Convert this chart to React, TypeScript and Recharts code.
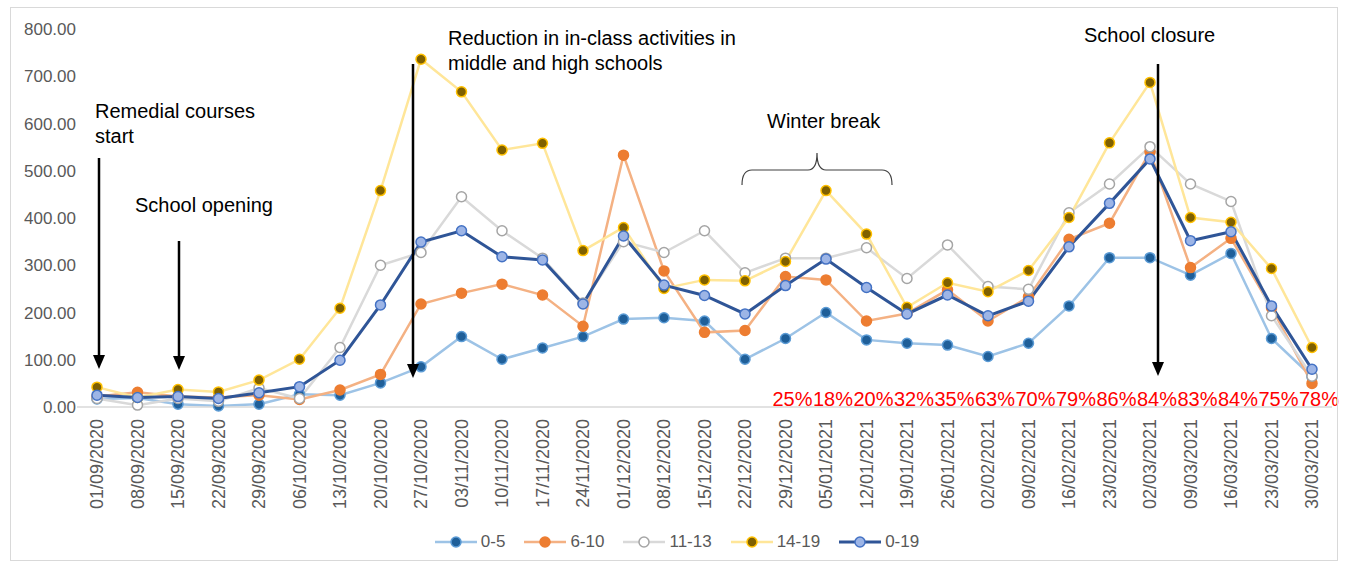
import React from "react";
import {
  LineChart,
  Line,
  XAxis,
  YAxis,
  ReferenceDot,
} from "recharts";

const dates = [
  "01/09/2020", "08/09/2020", "15/09/2020", "22/09/2020", "29/09/2020",
  "06/10/2020", "13/10/2020", "20/10/2020", "27/10/2020", "03/11/2020",
  "10/11/2020", "17/11/2020", "24/11/2020", "01/12/2020", "08/12/2020",
  "15/12/2020", "22/12/2020", "29/12/2020", "05/01/2021", "12/01/2021",
  "19/01/2021", "26/01/2021", "02/02/2021", "09/02/2021", "16/02/2021",
  "23/02/2021", "02/03/2021", "09/03/2021", "16/03/2021", "23/03/2021",
  "30/03/2021",
];

const age0to5 = [17, 19, 6, 2, 6, 27, 25, 51, 85, 149, 101, 125, 149, 186, 189, 182, 101, 145, 200, 142, 135, 131, 107, 135, 214, 316, 316, 279, 325, 145, 64];
const age6to10 = [22, 31, 22, 20, 25, 16, 36, 69, 218, 241, 260, 237, 171, 533, 288, 158, 162, 276, 269, 182, 198, 248, 182, 233, 355, 389, 540, 295, 357, 210, 50];
const age11to13 = [18, 4, 18, 12, 40, 18, 126, 300, 327, 445, 373, 315, 220, 350, 327, 373, 284, 315, 315, 337, 272, 343, 255, 249, 411, 472, 551, 472, 435, 193, 65];
const age14to19 = [42, 20, 37, 32, 57, 101, 209, 458, 736, 667, 544, 558, 331, 380, 251, 269, 267, 308, 458, 366, 211, 263, 244, 289, 401, 559, 687, 401, 391, 293, 126];
const age0to19 = [25, 20, 22, 18, 30, 43, 99, 216, 349, 373, 318, 311, 218, 362, 258, 236, 197, 257, 313, 253, 197, 237, 193, 224, 339, 431, 525, 352, 371, 214, 80];

// red percentages, shown from 29/12/2020 onwards
const pctStart = 17;
const pctLabels = ["25%", "18%", "20%", "32%", "35%", "63%", "70%", "79%", "86%", "84%", "83%", "84%", "75%", "78%"];

const yTicks = [0, 100, 200, 300, 400, 500, 600, 700, 800];

const series = [
  { key: "a", name: "0-5", line: "#9dc3e6", fill: "#1f5f99", stroke: "#5b9bd5", width: 2.5 },
  { key: "b", name: "6-10", line: "#f4b183", fill: "#ed7d31", stroke: "#ed7d31", width: 2.5 },
  { key: "c", name: "11-13", line: "#d9d9d9", fill: "#ffffff", stroke: "#a5a5a5", width: 2.5 },
  { key: "d", name: "14-19", line: "#ffe699", fill: "#7f6000", stroke: "#ffc000", width: 2.5 },
  { key: "e", name: "0-19", line: "#2f5597", fill: "#9db5e6", stroke: "#4472c4", width: 3 },
];

const data = dates.map((date, i) => ({
  date,
  a: age0to5[i],
  b: age6to10[i],
  c: age11to13[i],
  d: age14to19[i],
  e: age0to19[i],
}));

const FONT = "'Liberation Sans', Arial, sans-serif";

function DateTick({ x, y, payload }: any) {
  return (
    <g transform={`translate(${x},${y})`}>
      <text
        transform="rotate(-90)"
        x={-10}
        y={0}
        dy="0.35em"
        textAnchor="end"
        fill="#595959"
        fontSize={18}
        fontFamily={FONT}
      >
        {payload.value}
      </text>
    </g>
  );
}

function PctLabel({ viewBox, value }: any) {
  const cx = viewBox.x + (viewBox.width || 0) / 2;
  return (
    <text
      x={cx + 7}
      y={viewBox.y - 1}
      textAnchor="middle"
      fill="#ff0000"
      fontSize={20}
      fontFamily={FONT}
    >
      {value}
    </text>
  );
}

function Arrow({ x, y1, y2 }: { x: number; y1: number; y2: number }) {
  return (
    <g>
      <line x1={x} y1={y1} x2={x} y2={y2 - 12} stroke="#000" strokeWidth={2.5} />
      <polygon points={`${x - 6},${y2 - 14} ${x + 6},${y2 - 14} ${x},${y2}`} fill="#000" />
    </g>
  );
}

function Annotations() {
  const t = { fontFamily: FONT, fontSize: 20, fill: "#000" };
  return (
    <svg
      width={1354}
      height={567}
      style={{ position: "absolute", left: 0, top: 0, pointerEvents: "none" }}
    >
      <rect x={10.5} y={7.5} width={1327} height={553} fill="none" stroke="#d9d9d9" />
      <text x={95} y={118} {...t}>Remedial courses</text>
      <text x={95} y={143} {...t}>start</text>
      <text x={135} y={212} {...t}>School opening</text>
      <text x={448} y={45} {...t}>Reduction in in-class activities in</text>
      <text x={448} y={70} {...t}>middle and high schools</text>
      <text x={767} y={128} {...t}>Winter break</text>
      <text x={1084} y={42} {...t}>School closure</text>
      <path
        d="M742,185 Q742,170 752,170 L808,170 Q817,170 817,153 Q817,170 826,170 L882,170 Q892,170 892,185"
        fill="none"
        stroke="#404040"
        strokeWidth={1.2}
      />
      <Arrow x={99} y1={158} y2={369} />
      <Arrow x={179} y1={241} y2={370} />
      <Arrow x={413} y1={64} y2={378} />
      <Arrow x={1158} y1={64} y2={376} />
    </svg>
  );
}

function LegendRow() {
  return (
    <div
      style={{
        position: "absolute",
        left: 0,
        top: 531,
        width: 1354,
        display: "flex",
        justifyContent: "center",
        gap: 19,
        fontFamily: FONT,
        fontSize: 17,
        color: "#595959",
      }}
    >
      {series.map((s) => (
        <div key={s.key} style={{ display: "flex", alignItems: "center" }}>
          <svg width={42} height={22} style={{ marginRight: 4 }}>
            <line x1={0} y1={11} x2={42} y2={11} stroke={s.line} strokeWidth={s.width} />
            <circle cx={21} cy={11} r={5} fill={s.fill} stroke={s.stroke} strokeWidth={1.5} />
          </svg>
          <span>{s.name}</span>
        </div>
      ))}
    </div>
  );
}

export default function App() {
  return (
    <div
      style={{
        position: "absolute",
        left: 0,
        top: 0,
        width: 1354,
        height: 567,
        background: "#fff",
        fontFamily: FONT,
      }}
    >
      <LineChart
        width={1354}
        height={567}
        data={data}
        margin={{ top: 29, right: 22, bottom: 50, left: 0 }}
      >
        <XAxis
          dataKey="date"
          interval={0}
          height={110}
          padding={{ left: 20, right: 20 }}
          tickSize={0}
          tickLine={false}
          axisLine={{ stroke: "#d9d9d9", strokeWidth: 1.5 }}
          tick={<DateTick />}
        />
        <YAxis
          width={77}
          domain={[0, 800]}
          ticks={yTicks}
          tickSize={0}
          tickMargin={1}
          axisLine={false}
          tickLine={false}
          tickFormatter={(v) => Number(v).toFixed(2)}
          tick={{ fill: "#595959", fontSize: 17, fontFamily: FONT }}
        />
        {series.map((s) => (
          <Line
            key={s.key}
            dataKey={s.key}
            name={s.name}
            stroke={s.line}
            strokeWidth={s.width}
            dot={{ r: 5, fill: s.fill, stroke: s.stroke, strokeWidth: 1.5 }}
            activeDot={false}
            isAnimationActive={false}
          />
        ))}
        {pctLabels.map((p, i) => (
          <ReferenceDot
            key={p + i}
            x={dates[pctStart + i]}
            y={0}
            r={0}
            fill="none"
            stroke="none"
            label={<PctLabel value={p} />}
          />
        ))}
      </LineChart>
      <Annotations />
      <LegendRow />
    </div>
  );
}
